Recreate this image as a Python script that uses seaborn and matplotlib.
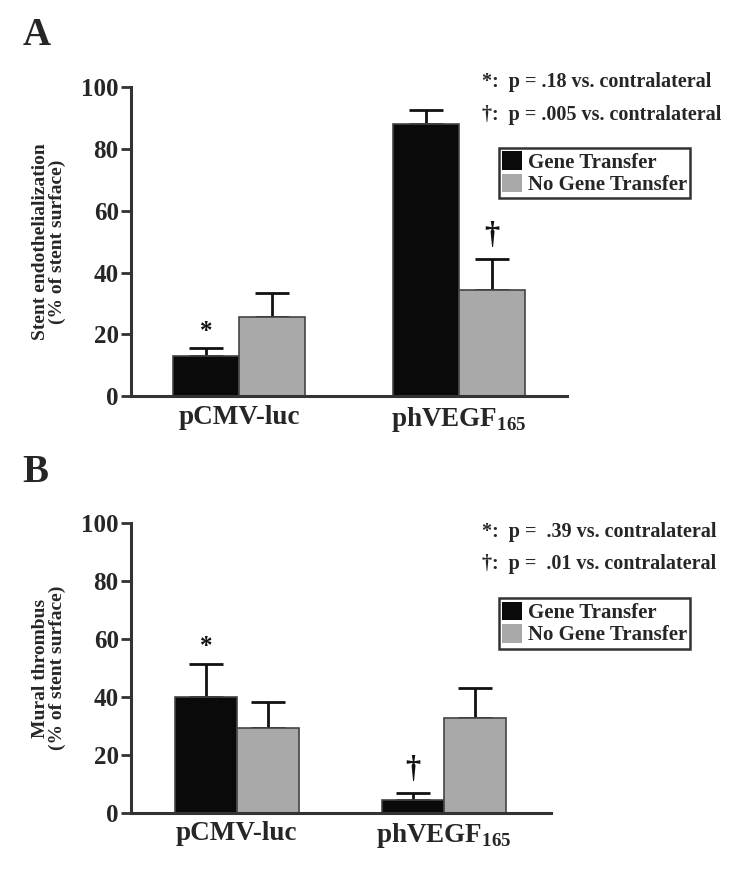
import pandas as pd
import numpy as np
import matplotlib
matplotlib.use('Agg')
import matplotlib.pyplot as plt
import matplotlib.patches as mpatches
import seaborn as sns

# data
groups = ['pCMV-luc', 'phVEGF$_{\\mathbf{165}}$']
treatments = ['Gene Transfer', 'No Gene Transfer']

endo_mean = [13, 25.5, 88, 34.3]      # gt pCMV, no-gt pCMV, gt VEGF, no-gt VEGF
endo_sem = [2.6, 8, 4.5, 10]
thromb_mean = [40, 29.3, 4.5, 32.8]
thromb_sem = [11.3, 9, 2.4, 10.3]

endo_notes = ['*:  p = .18 vs. contralateral', '\u2020:  p = .005 vs. contralateral']
thromb_notes = ['*:  p =  .39 vs. contralateral', '\u2020:  p =  .01 vs. contralateral']

sns.set_style('ticks')
plt.rcParams['font.family'] = ['Liberation Serif', 'DejaVu Serif']
plt.rcParams['font.weight'] = 'bold'
plt.rcParams['mathtext.fontset'] = 'custom'
plt.rcParams['mathtext.bf'] = 'Liberation Serif:bold'
plt.rcParams['mathtext.rm'] = 'Liberation Serif:bold'

colors = {'Gene Transfer': '#0a0a0a', 'No Gene Transfer': '#a9a9a9'}


def make_df(means, sems):
    rows = []
    i = 0
    for g in groups:
        for t in treatments:
            rows.append({'group': g, 'treatment': t, 'value': means[i], 'sem': sems[i]})
            i += 1
    return pd.DataFrame(rows)


def draw_panel(ax, df, ylabel, marks):
    sns.barplot(data=df, x='group', y='value', hue='treatment', palette=colors,
                width=0.6, gap=0, errorbar=None, ax=ax, legend=False,
                edgecolor='#444444', linewidth=1.2, saturation=1, zorder=2)
    # upper error bars on each bar (drawn behind so the lower cap is hidden)
    conts = list(ax.containers)
    for t_i, cont in enumerate(conts):
        for g_i, bar in enumerate(cont):
            row = df[(df['group'] == groups[g_i]) & (df['treatment'] == treatments[t_i])].iloc[0]
            xc = bar.get_x() + bar.get_width() / 2
            ax.errorbar(xc, row['value'], yerr=[[0], [row['sem']]], fmt='none',
                        ecolor='#111111', elinewidth=2, capsize=12, capthick=2, zorder=1)
            key = (g_i, t_i)
            if key in marks:
                sym, yy, fs = marks[key]
                ax.text(xc, yy, sym, ha='center', va='center', fontsize=fs,
                        fontweight='bold', color='#111111')
    ax.set_ylim(0, 100)
    ax.set_yticks([0, 20, 40, 60, 80, 100])
    ax.set_xlabel('')
    ax.set_ylabel(ylabel, fontsize=14, fontweight='bold', labelpad=11, linespacing=1.0)
    ax.tick_params(axis='y', labelsize=18, width=2, length=7, color='#333333', pad=2)
    ax.tick_params(axis='x', length=0, labelsize=19.5, pad=6)
    for s in ['top', 'right']:
        ax.spines[s].set_visible(False)
    for s in ['left', 'bottom']:
        ax.spines[s].set_linewidth(2.2)
        ax.spines[s].set_color('#333333')


fig = plt.figure(figsize=(7.5, 8.71), dpi=100)
axA = fig.add_axes([0.175, 0.545, 0.581, 0.355])
axB = fig.add_axes([0.175, 0.0666, 0.560, 0.333])

dfA = make_df(endo_mean, endo_sem)
dfB = make_df(thromb_mean, thromb_sem)

draw_panel(axA, dfA, 'Stent endothelialization\n(% of stent surface)',
           {(0, 0): ('*', 21, 18), (1, 1): ('\u2020', 52, 22)})
axA.set_xlim(-0.49, 1.49)
draw_panel(axB, dfB, 'Mural thrombus\n(% of stent surface)',
           {(0, 0): ('*', 57.5, 18), (1, 0): ('\u2020', 15, 22)})
axB.set_xlim(-0.51, 1.52)

fig.text(0.03, 0.959, 'A', fontsize=28, fontweight='bold', va='center')
fig.text(0.03, 0.457, 'B', fontsize=28, fontweight='bold', va='center')

for notes, ys in [(endo_notes, (0.906, 0.868)), (thromb_notes, (0.389, 0.352))]:
    for n, yy in zip(notes, ys):
        fig.text(0.643, yy, n, fontsize=14.5, fontweight='bold', va='center')

handles = [mpatches.Patch(facecolor=colors[t], edgecolor='none', label=t) for t in treatments]
for anchor in [(0.665, 0.830), (0.665, 0.313)]:
    leg = fig.legend(handles=handles, loc='upper left', bbox_to_anchor=anchor,
                     frameon=True, fancybox=False, fontsize=15, handlelength=0.95,
                     handleheight=1.0, handletextpad=0.3, borderpad=0.15,
                     labelspacing=0.05, borderaxespad=0)
    leg.get_frame().set_edgecolor('black')
    leg.get_frame().set_linewidth(1.8)

fig.savefig('out.png', dpi=100)
